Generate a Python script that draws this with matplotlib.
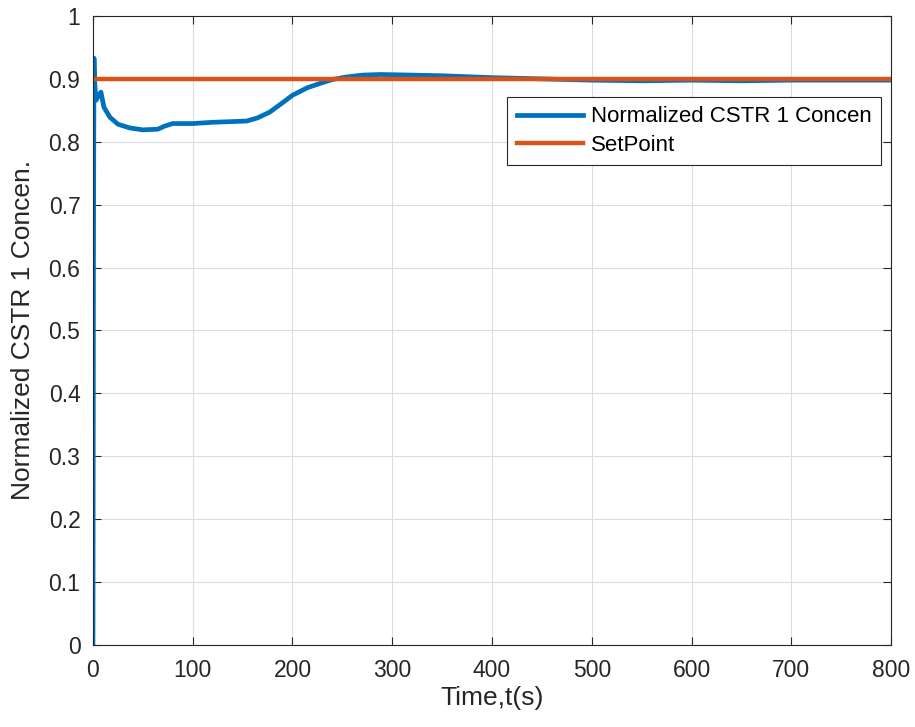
import numpy as np
import matplotlib.pyplot as plt

# values
time_s = [0, 0.5, 1.0, 1.5, 3, 5, 8, 11, 17, 25, 37, 50, 65, 72, 80, 100, 120,
          154, 165, 177, 190, 200, 215, 228, 240, 254, 270, 288, 320, 350,
          400, 450, 500, 550, 600, 650, 700, 750, 800]
concen = [0.0, 0.60, 0.933, 0.90, 0.866, 0.872, 0.879, 0.855, 0.839, 0.828,
          0.822, 0.819, 0.820, 0.825, 0.829, 0.829, 0.831, 0.833, 0.838,
          0.847, 0.862, 0.874, 0.886, 0.893, 0.899, 0.903, 0.906, 0.907,
          0.906, 0.905, 0.902, 0.900, 0.898, 0.897, 0.898, 0.897, 0.898,
          0.898, 0.898]
setpoint_t = [0, 800]
setpoint = [0.9, 0.9]

plt.rcParams['font.family'] = ['Liberation Sans', 'DejaVu Sans']

fig = plt.figure(figsize=(9.15, 7.27), dpi=100)
ax = fig.add_axes([0.1016, 0.1128, 0.8722, 0.8652])

blue = '#0072BD'
orange = '#D95319'
ax.plot(time_s, concen, color=blue, lw=3.4, label='Normalized CSTR 1 Concen')
ax.plot(setpoint_t, setpoint, color=orange, lw=3.2, label='SetPoint')

ax.set_xlim(0, 800)
ax.set_ylim(0, 1)
ax.set_xticks(np.arange(0, 801, 100))
ax.set_yticks(np.arange(0, 1.01, 0.1))
ax.set_yticklabels(['0', '0.1', '0.2', '0.3', '0.4', '0.5', '0.6', '0.7',
                    '0.8', '0.9', '1'])
ax.grid(True, color='#dcdcdc', lw=0.8)
ax.set_axisbelow(True)
ax.tick_params(direction='in', length=6, labelsize=16.5, colors='#262626',
               top=True, right=True)
ax.tick_params(axis='y', pad=9)
ax.tick_params(axis='x', pad=10)
ax.tick_params(labeltop=False, labelright=False)
for s in ax.spines.values():
    s.set_color('#262626')
    s.set_linewidth(0.8)

ax.set_xlabel('Time,t(s)', fontsize=19, color='#262626', labelpad=3)
ax.set_ylabel('Normalized CSTR 1 Concen.', fontsize=19, color='#262626',
              labelpad=10)

leg = ax.legend(loc='upper right', bbox_to_anchor=(0.9875, 0.871),
                fontsize=16, fancybox=False, framealpha=1,
                edgecolor='#262626', handlelength=3.0, borderpad=0.42,
                labelspacing=0.33, handletextpad=0.35, borderaxespad=0)
leg.get_frame().set_linewidth(0.8)

fig.savefig('out.png', dpi=100)
